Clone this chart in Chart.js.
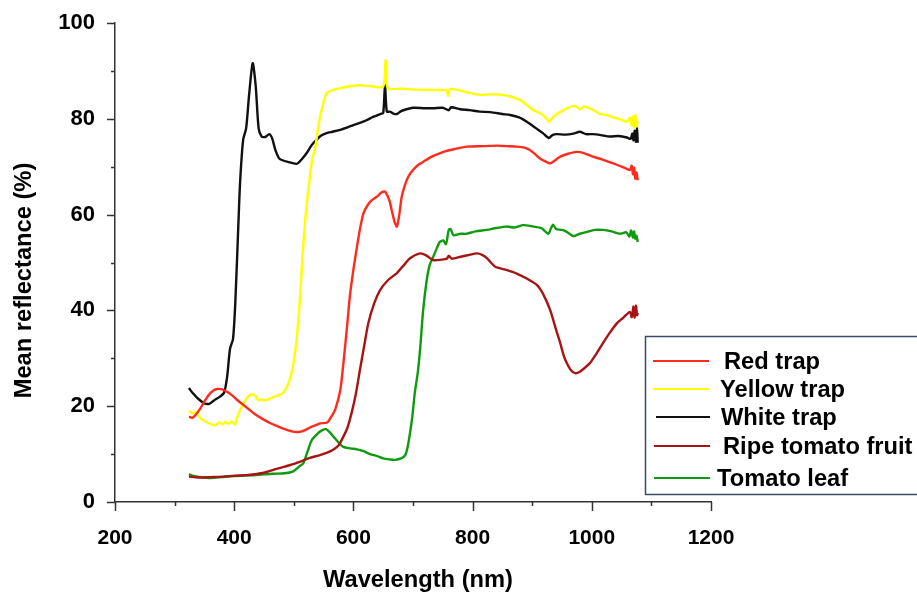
<!DOCTYPE html>
<html>
<head>
<meta charset="utf-8">
<script src="https://cdn.jsdelivr.net/npm/chart.js@4/dist/chart.umd.min.js"></script>
<style>
  html, body { margin: 0; padding: 0; background: #fff; }
  #wrap { width: 917px; height: 594px; position: relative; }
</style>
</head>
<body>
<div id="wrap"><canvas id="c" width="917" height="594"></canvas></div>
<script>
// ---- Data ----
const seriesLabels = ['Red trap', 'Yellow trap', 'White trap', 'Ripe tomato fruit', 'Tomato leaf'];
const xTitle = 'Wavelength (nm)';
const yTitle = 'Mean reflectance (%)';

const whiteWl = [324,330,340,350,358,366,376,383,388,393,398,402,407,410,415,420,425,431,436,441,446,452,459,464,469,475,480,490,505,513,522,530,538,546,555,565,578,590,600,612,622,633,645,650,653,656,661,667,673,680,689,700,720,734,750,760,764,779,795,812,830,850,863,878,891,900,908,918,928,934,941,955,969,980,990,1002,1015,1030,1045,1059,1065,1068,1070,1072,1074,1076,1077];
const whiteVals = [23.8,22.8,21.5,20.6,20.5,21.2,22,22.8,26,32,34,42,58,67,75.6,78,85,91.6,87,78,76.3,76.2,76.8,75.8,73.5,71.8,71.4,71,70.6,71.5,72.9,74.5,75.6,76.5,77,77.3,77.7,78.2,78.7,79.2,79.7,80.4,81,81.2,87,81.5,81.5,81.1,81,81.6,82,82.3,82.2,82.2,82.3,81.8,82.4,82,81.8,81.5,81.4,81,80.8,80.3,79.4,78.6,77.9,77,76,76.6,76.8,76.7,76.9,77.3,76.8,76.8,76.6,76.3,76.4,76.1,75.8,76.9,75.5,77.5,75.2,78,75];

const yellowWl = [324,330,336,343,352,360,368,375,380,385,390,396,401,406,411,415,423,430,435,440,446,452,460,468,475,482,488,493,498,503,507,510,515,520,527,531,536,540,544,550,555,565,578,595,611,630,650,654,658,680,706,730,745,756,759,762,779,795,812,830,851,865,880,890,902,916,922,928,934,941,950,958,972,980,987,994,1003,1014,1025,1036,1047,1059,1064,1067,1069,1071,1073,1075,1077];
const yellowVals = [19,18.5,18.8,17.5,16.8,16.3,16,16.6,16.2,16.7,16.3,16.8,16.2,18,19.5,20.5,22,22.5,22.2,21.3,21.4,21.2,21.6,22,22.3,22.8,24,25.5,28,32,37,42,52,60,68,71.5,74,77.5,80.4,83.5,85.3,86,86.4,86.8,87,86.8,86.7,92.3,86.4,86.3,86.1,86,86,85.9,84.8,86.2,85.9,85.4,85,85.1,85,84.6,83.9,83,81.8,81,80.3,79.4,80.2,81,81.6,82.2,82.7,82,82.6,82.3,81.8,81,80.8,80.3,79.9,79.4,80.2,78.6,80.5,78.2,80.8,78.5,79.5];

const redWl = [324,330,334,343,350,357,365,372,380,388,396,405,413,425,435,448,460,473,485,495,505,512,519,528,536,544,556,563,570,578,582,586,590,594,600,606,611,617,624,631,640,647,653,657,661,665,669,673,677,681,686,692,700,708,717,730,741,751,770,790,820,840,857,875,887,896,905,913,922,930,938,947,960,975,988,1002,1018,1036,1050,1058,1064,1067,1069,1071,1073,1075,1077];
const redVals = [17.8,17.6,18,19.5,21,22.3,23.3,23.6,23.5,23,22.3,21.3,20.5,19.3,18.3,17.3,16.5,15.8,15.2,14.8,14.6,14.7,15,15.6,16,16.4,16.6,17.8,19.5,23.4,27.5,32.4,37.5,42.9,48.5,53.3,57,60.3,62,63,63.8,64.6,64.8,64,62.7,60.5,58.5,57.5,60,63.7,66,67.9,69.3,70.3,71,72,72.6,73.1,73.7,74.2,74.3,74.4,74.3,74.2,74,73.5,72.6,71.7,71.1,70.7,71.3,72.1,72.7,73.1,72.8,72.1,71.5,70.7,70,69.6,69.3,70.2,68.4,69.8,67.5,68.8,67.2];

const fruitWl = [324,340,360,380,401,420,435,450,468,485,502,510,527,544,556,566,575,583,590,597,604,611,618,625,635,645,658,673,685,695,712,722,734,748,757,760,765,780,795,807,816,824,838,855,874,890,908,918,930,940,947,953,958,965,972,980,990,997,1008,1019,1030,1042,1053,1064,1067,1070,1072,1074,1076,1077];
const fruitVals = [5.3,5.1,5.2,5.3,5.5,5.6,5.8,6.1,6.8,7.4,8,8.4,9.2,9.8,10.3,10.9,11.8,13.6,15.5,18.6,22.5,27.6,32.5,37.3,41.5,44.3,46.3,47.8,49.5,50.9,51.9,51.5,50.5,50.6,50.8,51.4,50.8,51.2,51.6,51.9,51.6,50.9,49.1,48.5,47.7,46.7,45.3,43.5,40.1,36,33.2,30.5,29,27.5,26.9,27.2,28.2,29,31,33.2,35.3,37.3,38.5,39.7,38.6,40.8,38.5,41,39,39.5];

const leafWl = [324,330,343,360,380,401,420,443,465,485,499,510,516,523,530,540,548,554,560,569,576,583,595,606,617,628,640,650,660,670,680,687,691,695,699,703,708,712,717,723,728,734,740,745,751,755,757,760,763,768,780,790,805,824,840,857,870,885,902,915,927,931,935,940,950,958,969,980,992,1005,1019,1033,1047,1058,1063,1066,1069,1071,1073,1075,1077];
const leafVals = [5.8,5.5,5.2,5,5.2,5.4,5.5,5.7,5.9,6,6.4,7.5,8.1,10.5,12.9,14.3,15,15.2,14.6,13.3,12.3,11.5,11.2,11,10.6,10,9.6,9.1,8.9,8.8,9.1,9.8,11.5,14.4,18,22.8,27,32,40,46.3,49.5,51.2,53,54.3,54.6,53.8,54.7,56.8,57,55.7,56,56,56.5,56.8,57.2,57.5,57.3,57.8,57.5,57.2,56,57,57.9,57,56.8,56.4,55.5,56,56.4,56.8,56.8,56.5,56,56.3,55.4,56.7,55.2,56.5,55,55.6,54.3];

const xTickValues = [200, 400, 600, 800, 1000, 1200];
const yTickValues = [0, 20, 40, 60, 80, 100];

// ---- Build datasets ----
function pts(wl, v) { return wl.map((w, i) => ({ x: w, y: v[i] })); }
const colors = ['#ff2b1c', '#ffff00', '#111111', '#a81414', '#109a10'];
const seriesData = [pts(redWl, redVals), pts(yellowWl, yellowVals), pts(whiteWl, whiteVals), pts(fruitWl, fruitVals), pts(leafWl, leafVals)];

const datasets = seriesLabels.map((lab, i) => ({
  label: lab,
  data: seriesData[i],
  borderColor: colors[i],
  backgroundColor: colors[i],
  borderWidth: 2.4,
  pointRadius: 0,
  tension: 0.25,
  fill: false
}));

const FONT = '"Liberation Sans", Arial, sans-serif';

// custom tick marks (major / minor) and axis titles, drawn through the scales
const axisPlugin = {
  id: 'axisExtras',
  afterDraw(chart) {
    const ctx = chart.ctx;
    const xs = chart.scales.x, ys = chart.scales.y;
    ctx.save();
    ctx.strokeStyle = '#333';
    ctx.lineWidth = 1.5;
    for (let v = 200; v <= 1200; v += 100) {
      const px = Math.round(xs.getPixelForValue(v)) + 0.5;
      const len = (v % 200 === 0) ? 9 : 4;
      ctx.beginPath();
      ctx.moveTo(px, ys.bottom);
      ctx.lineTo(px, ys.bottom + len);
      ctx.stroke();
    }
    for (let v = 0; v <= 100; v += 10) {
      const py = Math.round(ys.getPixelForValue(v)) + 0.5;
      const len = (v % 20 === 0) ? 8 : 4;
      ctx.beginPath();
      ctx.moveTo(xs.left, py);
      ctx.lineTo(xs.left - len, py);
      ctx.stroke();
    }
    ctx.fillStyle = '#000';
    ctx.font = 'bold 23.7px ' + FONT;
    ctx.textAlign = 'center';
    ctx.textBaseline = 'middle';
    ctx.fillText(xTitle, (xs.left + xs.right) / 2 + 5, 580);
    ctx.translate(24, (ys.top + ys.bottom) / 2 + 18);
    ctx.rotate(-Math.PI / 2);
    ctx.fillText(yTitle, 0, 0);
    ctx.restore();
  }
};

// boxed legend in the lower right
const legendPlugin = {
  id: 'boxLegend',
  afterDraw(chart) {
    const ctx = chart.ctx;
    ctx.save();
    ctx.fillStyle = '#ffffff';
    ctx.fillRect(645, 336, 290, 158);
    ctx.strokeStyle = '#3a4a6c';
    ctx.lineWidth = 1.5;
    ctx.strokeRect(645.5, 336.5, 290, 158);
    const rows = [
      { y: 361, x0: 653, x1: 709, tx: 724 },
      { y: 389, x0: 653, x1: 709, tx: 720 },
      { y: 417, x0: 656, x1: 710, tx: 721 },
      { y: 446, x0: 654, x1: 710, tx: 723 },
      { y: 478, x0: 654, x1: 710, tx: 717 }
    ];
    ctx.font = 'bold 23.7px ' + FONT;
    ctx.textBaseline = 'middle';
    ctx.textAlign = 'left';
    chart.data.datasets.forEach((ds, i) => {
      const r = rows[i];
      ctx.strokeStyle = ds.borderColor;
      ctx.lineWidth = 2;
      ctx.beginPath();
      ctx.moveTo(r.x0, r.y);
      ctx.lineTo(r.x1, r.y);
      ctx.stroke();
      ctx.fillStyle = '#000';
      ctx.fillText(ds.label, r.tx, r.y + 1);
    });
    ctx.restore();
  }
};

new Chart(document.getElementById('c'), {
  type: 'line',
  data: { datasets },
  plugins: [axisPlugin, legendPlugin],
  options: {
    responsive: false,
    animation: false,
    devicePixelRatio: 1,
    layout: { padding: { left: 0, right: 206, top: 23, bottom: 0 } },
    plugins: { legend: { display: false }, tooltip: { enabled: false } },
    scales: {
      x: {
        type: 'linear',
        min: 200, max: 1200,
        afterFit(s) { s.height = 92; s.paddingLeft = 0; s.paddingRight = 0; },
        afterBuildTicks(s) { s.ticks = xTickValues.map(v => ({ value: v })); },
        grid: { display: false, drawTicks: false, tickLength: 0 },
        border: { display: true, color: '#333', width: 1.5 },
        ticks: { color: '#000', padding: 24, maxRotation: 0, autoSkip: false,
                 callback: (v) => String(v),
                 font: { family: FONT, size: 21, weight: 'bold' } },
        title: { display: false }
      },
      y: {
        min: 0, max: 100,
        afterFit(s) { s.width = 115; s.paddingTop = 0; s.paddingBottom = 0; },
        afterBuildTicks(s) { s.ticks = yTickValues.map(v => ({ value: v })); },
        grid: { display: false, drawTicks: false, tickLength: 0 },
        border: { display: true, color: '#333', width: 1.5 },
        ticks: { color: '#000', padding: 20, autoSkip: false,
                 callback: (v) => String(v),
                 font: { family: FONT, size: 22, weight: 'bold' } },
        title: { display: false }
      }
    }
  }
});
</script>
</body>
</html>
